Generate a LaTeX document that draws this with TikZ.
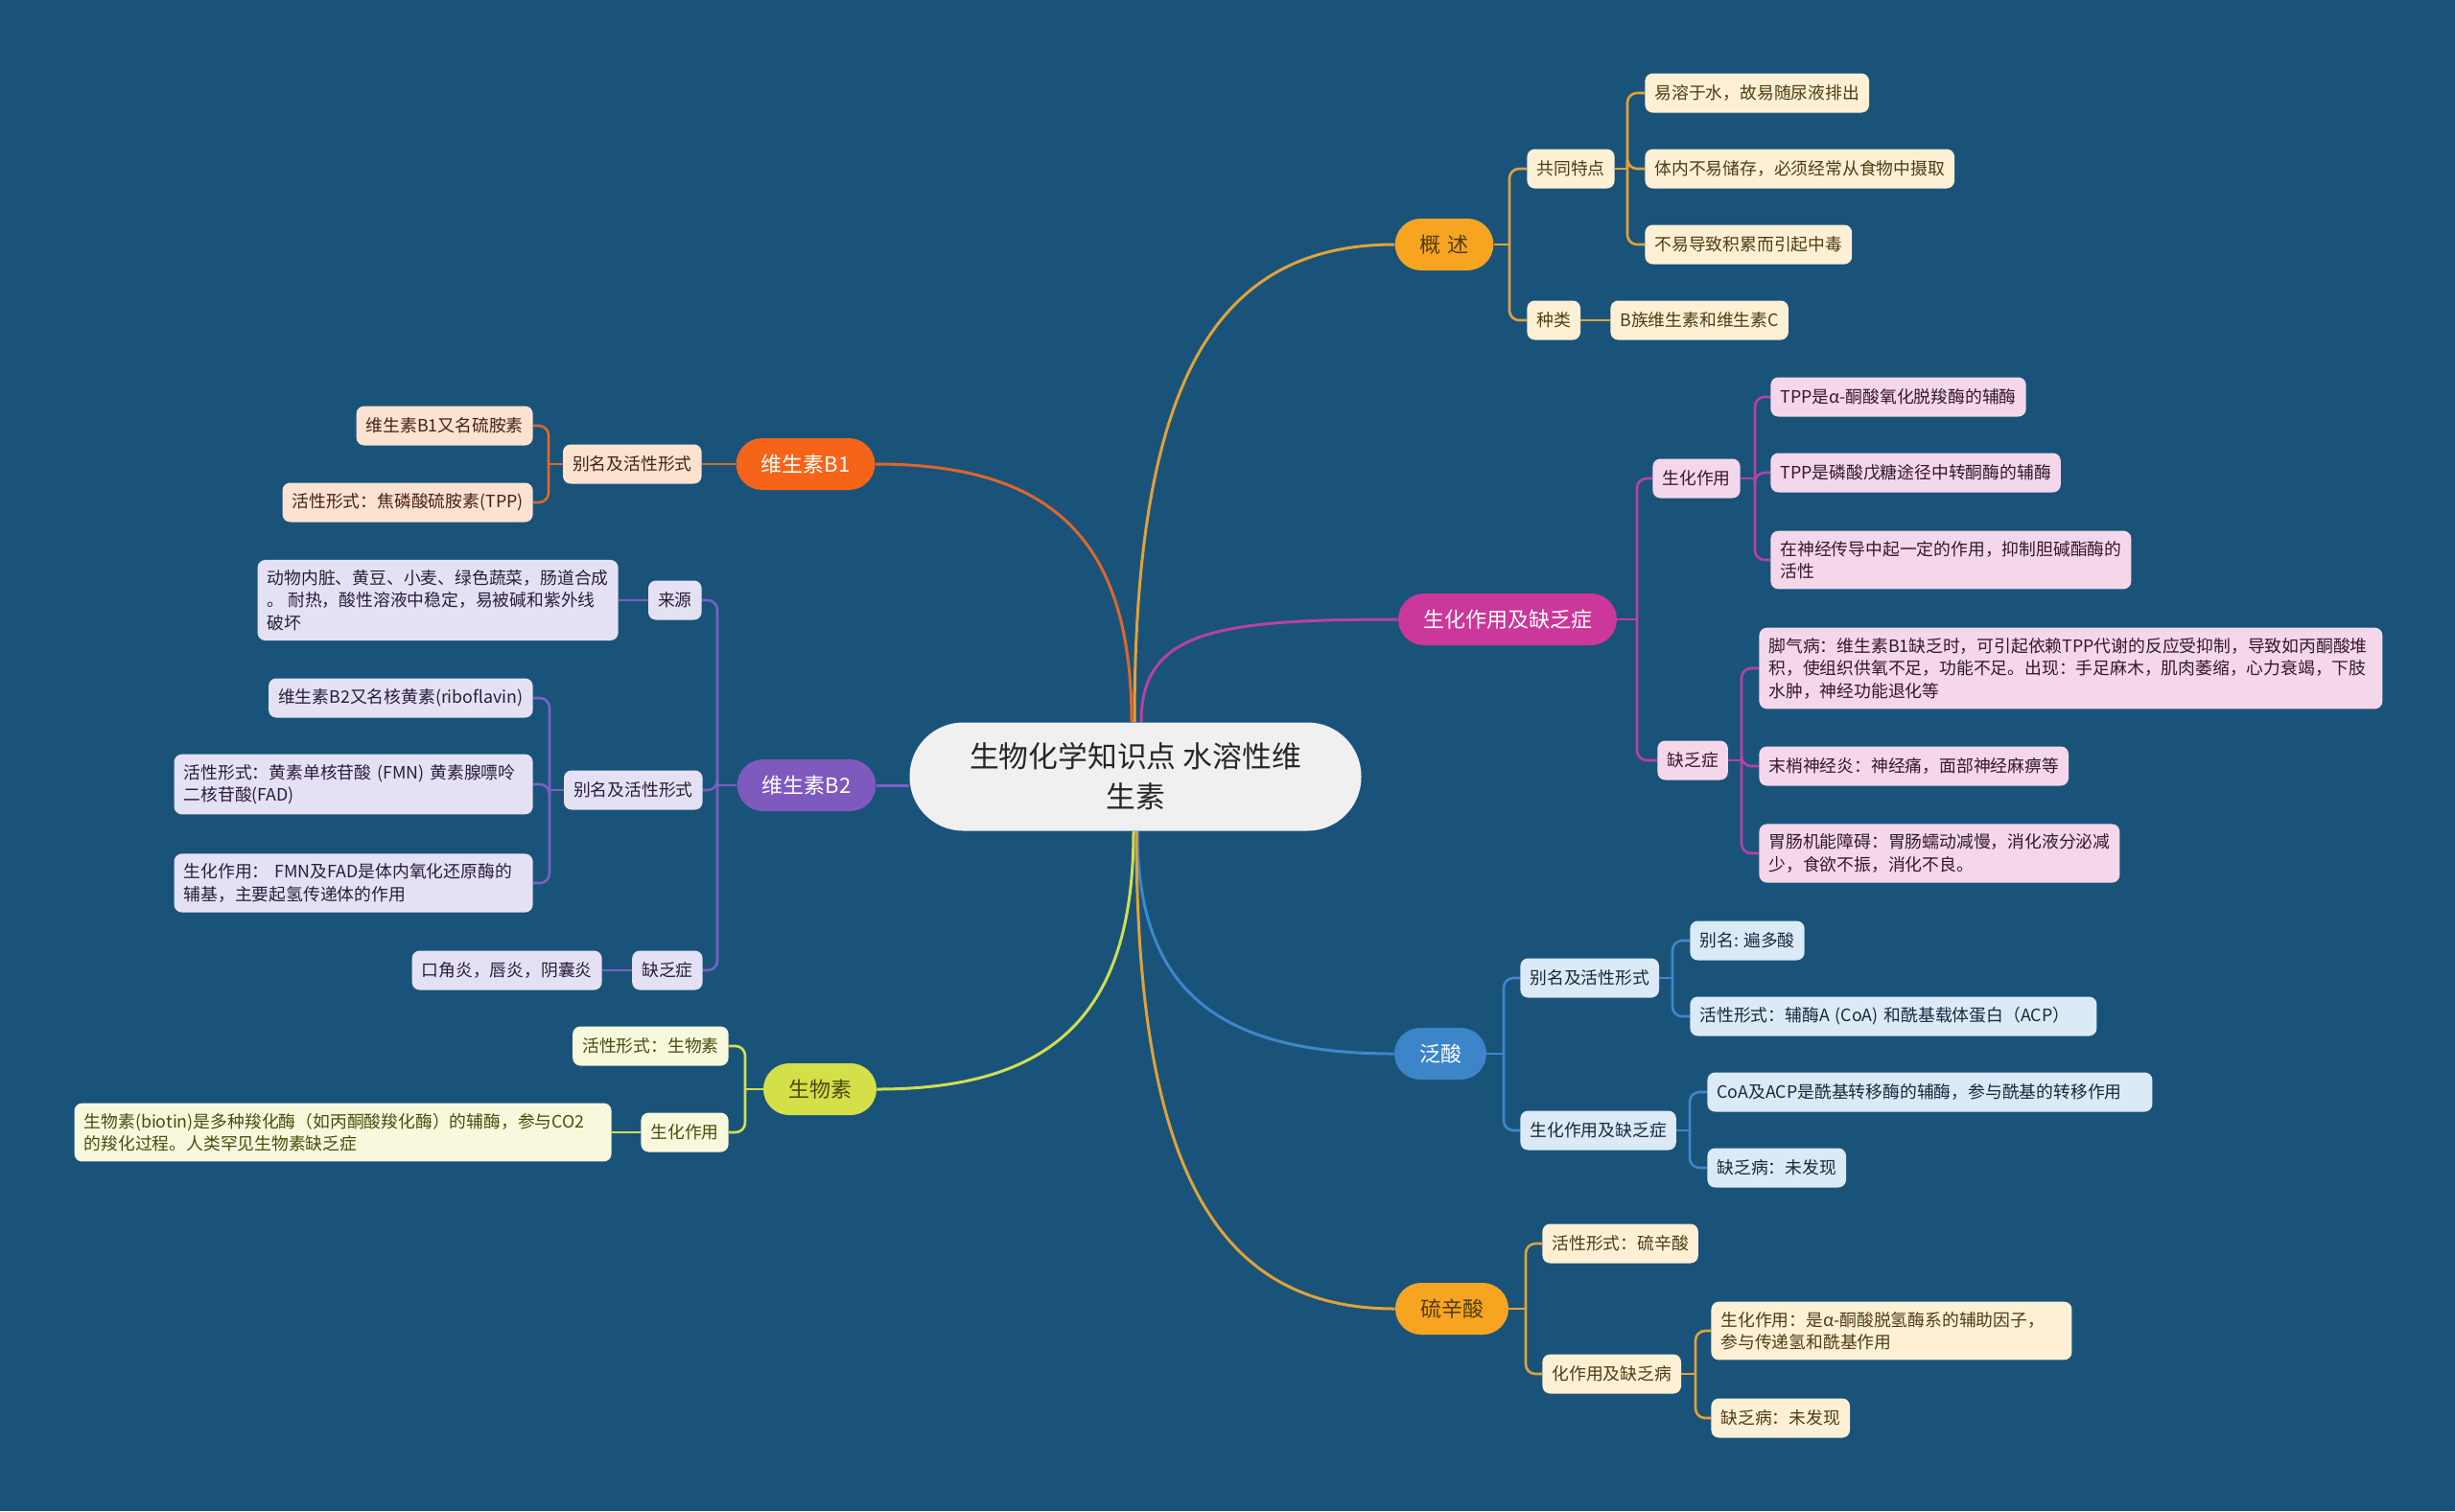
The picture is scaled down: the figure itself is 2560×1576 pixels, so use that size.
\documentclass[tikz,border=0pt]{standalone}
\usepackage{fontspec}
\setmainfont{Noto Sans CJK SC}
\definecolor{bgc}{RGB}{25,83,121}
\definecolor{orM}{RGB}{247,165,33}
\definecolor{orL}{RGB}{224,162,58}
\definecolor{orF}{RGB}{253,240,213}
\definecolor{orT}{RGB}{80,60,20}
\definecolor{mgM}{RGB}{203,55,155}
\definecolor{mgL}{RGB}{182,66,162}
\definecolor{mgF}{RGB}{245,215,235}
\definecolor{mgT}{RGB}{50,25,45}
\definecolor{blM}{RGB}{60,133,200}
\definecolor{blL}{RGB}{62,135,202}
\definecolor{blF}{RGB}{220,233,246}
\definecolor{blT}{RGB}{25,40,60}
\definecolor{rdM}{RGB}{245,100,25}
\definecolor{rdL}{RGB}{222,102,45}
\definecolor{rdF}{RGB}{252,226,208}
\definecolor{rdT}{RGB}{70,35,20}
\definecolor{puM}{RGB}{126,90,190}
\definecolor{puL}{RGB}{122,96,196}
\definecolor{puF}{RGB}{229,225,244}
\definecolor{puT}{RGB}{40,30,60}
\definecolor{ygM}{RGB}{212,224,72}
\definecolor{ygL}{RGB}{210,222,80}
\definecolor{ygF}{RGB}{248,248,220}
\definecolor{ygT}{RGB}{75,75,15}
\definecolor{ctF}{RGB}{240,240,240}
\pgfdeclarelayer{bgl}
\pgfdeclarelayer{lines}
\pgfsetlayers{bgl,lines,main}
\tikzset{
  pill/.style={rounded corners=13.5pt, minimum height=27pt, inner xsep=13pt, inner ysep=0pt, font=\fontsize{11}{13}\selectfont},
  leaf/.style={rounded corners=4pt, minimum height=20.5pt, inner xsep=5pt, inner ysep=5.2pt, font=\fontsize{8.9}{11.7}\selectfont, align=left},
  orleaf/.style={leaf, fill=orF, text=orT},
  mgleaf/.style={leaf, fill=mgF, text=mgT},
  blleaf/.style={leaf, fill=blF, text=blT},
  rdleaf/.style={leaf, fill=rdF, text=rdT},
  puleaf/.style={leaf, fill=puF, text=puT},
  ygleaf/.style={leaf, fill=ygF, text=ygT},
  lk/.style={line width=1.3pt, rounded corners=5pt},
  mainlk/.style={line width=1.5pt},
}
\begin{document}
\begin{tikzpicture}[x=0.5pt,y=-0.5pt]
\begin{pgfonlayer}{bgl}
\fill[bgc] (0,0) rectangle (2560,1576);
\end{pgfonlayer}
\useasboundingbox (0,0) rectangle (2560,1576);

% center
\node[fill=ctF, text=black!85, rounded corners=28pt, minimum width=235.5pt, minimum height=56.5pt, align=center, font=\fontsize{15.4}{21}\selectfont] (c) at (1184,810) {生物化学知识点 水溶性维\\生素};

% main branches
\node[pill, fill=orM, text=orT] (gs) at (1506,255) {概\hspace{0.3em}述};
\node[pill, fill=mgM, text=white] (sh) at (1572,646) {生化作用及缺乏症};
\node[pill, fill=blM, text=white] (fs) at (1502,1099) {泛酸};
\node[pill, fill=orM, text=orT] (lx) at (1514,1365) {硫辛酸};
\node[pill, fill=rdM, text=white] (b1) at (840,484) {维生素B1};
\node[pill, fill=puM, text=white] (b2) at (841,819) {维生素B2};
\node[pill, fill=ygM, text=ygT] (sw) at (855,1136) {生物素};

% 概述
\node[orleaf, anchor=west] (gs1) at (1592,176) {共同特点};
\node[orleaf, anchor=west] (gs2) at (1592,334) {种类};
\node[orleaf, anchor=west] (gs11) at (1715,97) {易溶于水，故易随尿液排出};
\node[orleaf, anchor=west] (gs12) at (1715,176) {体内不易储存，必须经常从食物中摄取};
\node[orleaf, anchor=west] (gs13) at (1715,255) {不易导致积累而引起中毒};
\node[orleaf, anchor=west] (gs21) at (1679,334) {B族维生素和维生素C};

% 生化作用及缺乏症
\node[mgleaf, anchor=west] (sh1) at (1723,499) {生化作用};
\node[mgleaf, anchor=west] (sh2) at (1728,793) {缺乏症};
\node[mgleaf, anchor=west] (sh11) at (1846,414) {TPP是α-酮酸氧化脱羧酶的辅酶};
\node[mgleaf, anchor=west] (sh12) at (1846,493) {TPP是磷酸戊糖途径中转酮酶的辅酶};
\node[mgleaf, anchor=west] (sh13) at (1846,584) {在神经传导中起一定的作用，抑制胆碱酯酶的\\活性};
\node[mgleaf, anchor=west, text width=315pt] (sh21) at (1834,697) {脚气病：维生素B1缺乏时，可引起依赖TPP代谢的反应受抑制，导致如丙酮酸堆\\积，使组织供氧不足，功能不足。出现：手足麻木，肌肉萎缩，心力衰竭，下肢\\水肿，神经功能退化等};
\node[mgleaf, anchor=west] (sh22) at (1834,799) {末梢神经炎：神经痛，面部神经麻痹等};
\node[mgleaf, anchor=west] (sh23) at (1834,890) {胃肠机能障碍：胃肠蠕动减慢，消化液分泌减\\少，食欲不振，消化不良。};

% 泛酸
\node[blleaf, anchor=west] (fs1) at (1585,1020) {别名及活性形式};
\node[blleaf, anchor=west] (fs2) at (1585,1179) {生化作用及缺乏症};
\node[blleaf, anchor=west] (fs11) at (1762,981) {别名: 遍多酸};
\node[blleaf, anchor=west, text width=202pt] (fs12) at (1762,1060) {活性形式：辅酶A (CoA) 和酰基载体蛋白（ACP）};
\node[blleaf, anchor=west, text width=222pt] (fs21) at (1780,1139) {CoA及ACP是酰基转移酶的辅酶，参与酰基的转移作用};
\node[blleaf, anchor=west] (fs22) at (1780,1218) {缺乏病：未发现};

% 硫辛酸
\node[orleaf, anchor=west] (lx1) at (1608,1297) {活性形式：硫辛酸};
\node[orleaf, anchor=west] (lx2) at (1608,1433) {化作用及缺乏病};
\node[orleaf, anchor=west, text width=178pt] (lx21) at (1784,1388) {生化作用：是α-酮酸脱氢酶系的辅助因子，\\参与传递氢和酰基作用};
\node[orleaf, anchor=west] (lx22) at (1784,1479) {缺乏病：未发现};

% 维生素B1
\node[rdleaf, anchor=east] (b11) at (732,484) {别名及活性形式};
\node[rdleaf, anchor=east] (b111) at (556,444) {维生素B1又名硫胺素};
\node[rdleaf, anchor=east] (b112) at (556,524) {活性形式：焦磷酸硫胺素(TPP)};

% 维生素B2
\node[puleaf, anchor=east] (b21) at (732,626) {来源};
\node[puleaf, anchor=east] (b22) at (733,824) {别名及活性形式};
\node[puleaf, anchor=east] (b23) at (733,1012) {缺乏症};
\node[puleaf, anchor=east] (b211) at (645,626) {动物内脏、黄豆、小麦、绿色蔬菜，肠道合成\\。 耐热，酸性溶液中稳定，易被碱和紫外线\\破坏};
\node[puleaf, anchor=east] (b221) at (556,728) {维生素B2又名核黄素(riboflavin)};
\node[puleaf, anchor=east, text width=177pt] (b222) at (556,818) {活性形式：黄素单核苷酸 (FMN) 黄素腺嘌呤\\二核苷酸(FAD)};
\node[puleaf, anchor=east, text width=177pt] (b223) at (556,921) {生化作用： FMN及FAD是体内氧化还原酶的\\辅基，主要起氢传递体的作用};
\node[puleaf, anchor=east] (b231) at (628,1012) {口角炎，唇炎，阴囊炎};

% 生物素
\node[ygleaf, anchor=east] (sw1) at (760,1091) {活性形式：生物素};
\node[ygleaf, anchor=east] (sw2) at (760,1181) {生化作用};
\node[ygleaf, anchor=east, text width=270pt] (sw21) at (638,1181) {生物素(biotin)是多种羧化酶（如丙酮酸羧化酶）的辅酶，参与CO2\\的羧化过程。人类罕见生物素缺乏症};

% trunks
\coordinate (gsT) at (1574,255);
\coordinate (gs1T) at (1697,176);
\coordinate (shT) at (1707,646);
\coordinate (sh1T) at (1830,499);
\coordinate (sh2T) at (1816,793);
\coordinate (fsT) at (1568,1099);
\coordinate (fs1T) at (1744,1020);
\coordinate (fs2T) at (1762,1179);
\coordinate (lxT) at (1591,1365);
\coordinate (lx2T) at (1768,1433);
\coordinate (b11T) at (572,484);
\coordinate (b2T) at (748,819);
\coordinate (b22T) at (573,824);
\coordinate (swT) at (777,1136);

\begin{pgfonlayer}{lines}
% center to main
\draw[mainlk, orL] ([xshift=-0.5pt]c.north) .. controls +(0,-350) and +(-190,0) .. (gs.west);
\draw[mainlk, mgL] ([xshift=3pt]c.north) .. controls +(0,-95) and +(-190,0) .. (sh.west);
\draw[mainlk, rdL] ([xshift=-2pt]c.north) .. controls +(0,-190) and +(185,0) .. (b1.east);
\draw[mainlk, puL] (c.west |- b2.east) -- (b2.east);
\draw[mainlk, ygL] ([xshift=-1pt]c.south) .. controls +(0,190) and +(185,0) .. (sw.east);
\draw[mainlk, blL] ([xshift=1pt]c.south) .. controls +(0,165) and +(-185,0) .. (fs.west);
\draw[mainlk, orL] ([xshift=0.5pt]c.south) .. controls +(0,350) and +(-187,0) .. (lx.west);

% 概述
\draw[lk, orL] (gs.east) -- (gsT);
\draw[lk, orL] (gsT) |- (gs1.west);
\draw[lk, orL] (gsT) |- (gs2.west);
\draw[lk, orL] (gs1.east) -- (gs1T);
\draw[lk, orL] (gs1T) |- (gs11.west);
\draw[lk, orL] (gs1T) |- (gs12.west);
\draw[lk, orL] (gs1T) |- (gs13.west);
\draw[lk, orL] (gs2.east) -- (gs21.west);

% 生化作用及缺乏症
\draw[lk, mgL] (sh.east) -- (shT);
\draw[lk, mgL] (shT) |- (sh1.west);
\draw[lk, mgL] (shT) |- (sh2.west);
\draw[lk, mgL] (sh1.east) -- (sh1T);
\draw[lk, mgL] (sh1T) |- (sh11.west);
\draw[lk, mgL] (sh1T) |- (sh12.west);
\draw[lk, mgL] (sh1T) |- (sh13.west);
\draw[lk, mgL] (sh2.east) -- (sh2T);
\draw[lk, mgL] (sh2T) |- (sh21.west);
\draw[lk, mgL] (sh2T) |- (sh22.west);
\draw[lk, mgL] (sh2T) |- (sh23.west);

% 泛酸
\draw[lk, blL] (fs.east) -- (fsT);
\draw[lk, blL] (fsT) |- (fs1.west);
\draw[lk, blL] (fsT) |- (fs2.west);
\draw[lk, blL] (fs1.east) -- (fs1T);
\draw[lk, blL] (fs1T) |- (fs11.west);
\draw[lk, blL] (fs1T) |- (fs12.west);
\draw[lk, blL] (fs2.east) -- (fs2T);
\draw[lk, blL] (fs2T) |- (fs21.west);
\draw[lk, blL] (fs2T) |- (fs22.west);

% 硫辛酸
\draw[lk, orL] (lx.east) -- (lxT);
\draw[lk, orL] (lxT) |- (lx1.west);
\draw[lk, orL] (lxT) |- (lx2.west);
\draw[lk, orL] (lx2.east) -- (lx2T);
\draw[lk, orL] (lx2T) |- (lx21.west);
\draw[lk, orL] (lx2T) |- (lx22.west);

% 维生素B1
\draw[lk, rdL] (b1.west) -- (b11.east);
\draw[lk, rdL] (b11.west) -- (b11T);
\draw[lk, rdL] (b11T) |- (b111.east);
\draw[lk, rdL] (b11T) |- (b112.east);

% 维生素B2
\draw[lk, puL] (b2.west) -- (b2T);
\draw[lk, puL] (b2T) |- (b21.east);
\draw[lk, puL] (b2T) |- (b22.east);
\draw[lk, puL] (b2T) |- (b23.east);
\draw[lk, puL] (b21.west) -- (b211.east);
\draw[lk, puL] (b22.west) -- (b22T);
\draw[lk, puL] (b22T) |- (b221.east);
\draw[lk, puL] (b22T) |- (b222.east);
\draw[lk, puL] (b22T) |- (b223.east);
\draw[lk, puL] (b23.west) -- (b231.east);

% 生物素
\draw[lk, ygL] (sw.west) -- (swT);
\draw[lk, ygL] (swT) |- (sw1.east);
\draw[lk, ygL] (swT) |- (sw2.east);
\draw[lk, ygL] (sw2.west) -- (sw21.east);
\end{pgfonlayer}
\end{tikzpicture}
\end{document}
